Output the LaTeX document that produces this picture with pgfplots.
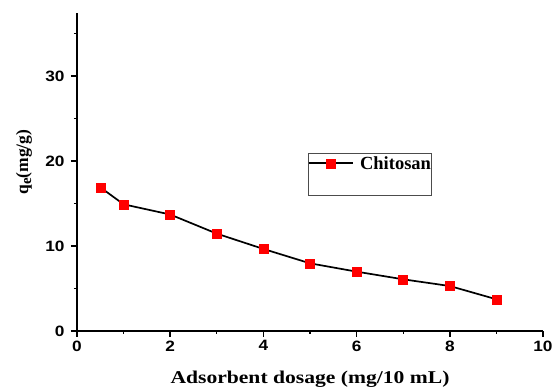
\documentclass[border=0pt]{standalone}
\usepackage{fontspec}
\setmainfont{Liberation Serif}
\newfontfamily\tickfont{Liberation Sans}[FakeStretch=1.15]
\newfontfamily\labfont{Liberation Serif}[FakeStretch=1.2]
\usepackage{pgfplots}
\pgfplotsset{compat=1.18}
\begin{document}
\begin{tikzpicture}
\useasboundingbox (-77pt,-57pt) rectangle (480pt,331pt);
\begin{axis}[
  scale only axis, width=466pt, height=318pt,
  xmin=0, xmax=10, ymin=0, ymax=37.4,
  axis x line=bottom, axis y line=left,
  axis line style={-, line width=1.6pt},
  xtick={0,2,...,10}, ytick={0,10,20,30},
  minor xtick={1,3,5,7,9}, minor ytick={5,15,25,35},
  tick align=outside, major tick length=6pt, minor tick length=3pt,
  tick style={line width=1.4pt, black},
  ticklabel style={font=\tickfont\bfseries\fontsize{15}{15}\selectfont},
  yticklabel style={xshift=-3pt},
  /pgf/number format/assume math mode=true,
  xlabel={\labfont\bfseries\fontsize{18}{18}\selectfont Adsorbent dosage (mg/10 mL)},
  xlabel style={at={(axis description cs:0.5,0)}, anchor=base, yshift=-52pt},
  ylabel={\bfseries\fontsize{17.5}{17.5}\selectfont q\raisebox{-3pt}{\fontsize{15}{15}\selectfont e}(mg/g)},
  ylabel style={at={(axis description cs:0,0.531)}, anchor=center, yshift=53pt},
  clip=false,
  legend image code/.code={\draw[mark repeat=2,mark phase=2,#1] plot coordinates {(0pt,0pt)(22pt,0pt)(44pt,0pt)};},
  legend style={at={(axis cs:4.957,20.94)}, anchor=north west, draw=black!70, line width=0.8pt,
    inner xsep=0pt, inner ysep=3.5pt, column sep=6pt,
    font=\bfseries\fontsize{18.5}{18.5}\selectfont,
    nodes={inner sep=0pt, text depth=0pt}},
]
\addplot[black, line width=1.7pt, mark=square*, mark size=4.5pt,
  mark options={fill=red, draw=red, line width=0.5pt, solid}] coordinates {
  (0.5,16.9) (1,14.9) (2,13.7) (3,11.45) (4,9.65)
  (5,7.96) (6,6.98) (7,6.08) (8,5.29) (9,3.73)
};
\addlegendentry{Chitosan}
\addlegendimage{empty legend}
\addlegendentry{\rule{0pt}{22pt}}
\end{axis}
\end{tikzpicture}
\end{document}
